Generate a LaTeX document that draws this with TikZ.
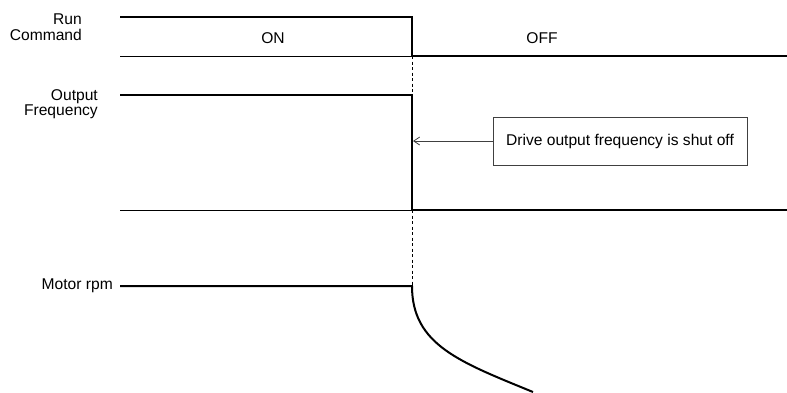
\documentclass[tikz,border=0pt]{standalone}
\usepackage{fontspec}
\setmainfont{Liberation Sans}
\usetikzlibrary{arrows.meta,positioning}
\tikzset{
  sig/.style={line width=2pt},
  rail/.style={line width=0.9pt},
  lbl/.style={font=\fontsize{15.6}{15.6}\selectfont, align=right, inner sep=0pt},
  notebox/.style={draw=black!75, line width=0.8pt, minimum width=254pt, minimum height=48pt,
    font=\fontsize{15.6}{15.6}\selectfont, inner sep=0pt},
}
\begin{document}
\begin{tikzpicture}[x=1pt,y=-1pt]
  \useasboundingbox (0,0) rectangle (787,392);
  % signal names
  \node[lbl, anchor=east] (runlbl) at (82,27) {Run\\Command};
  \node[lbl, anchor=east] (freqlbl) at (98,104) {Output\\Frequency};
  \node[lbl, anchor=east] (rpmlbl) at (113,286) {Motor rpm};
  \node[lbl] (onlbl) at (273,38) {ON};
  \node[lbl] (offlbl) at (542,38) {OFF};
  % low rails before the stop
  \foreach \y in {56,210} \draw[rail] (120,\y)--(412,\y);
  % waveforms
  \draw[sig] (120,17)--(412,17)--(412,56)--(787,56);
  \draw[sig] (120,95)--(412,95)--(412,210)--(787,210);
  \draw[sig] (120,286)--(412,286) .. controls (412,345) and (460,362) .. (533,392);
  % stop instant
  \draw[rail, dash pattern=on 3pt off 2.5pt] (412,56)--(412,95) (412,210)--(412,286);
  \node[notebox] (note) at (620,141) {Drive output frequency is shut off};
  \coordinate (cut) at (413,141);
  \draw[black!75, line width=0.8pt, -{Straight Barb[length=6pt,width=8pt]}] (note.west)--(cut);
\end{tikzpicture}
\end{document}
